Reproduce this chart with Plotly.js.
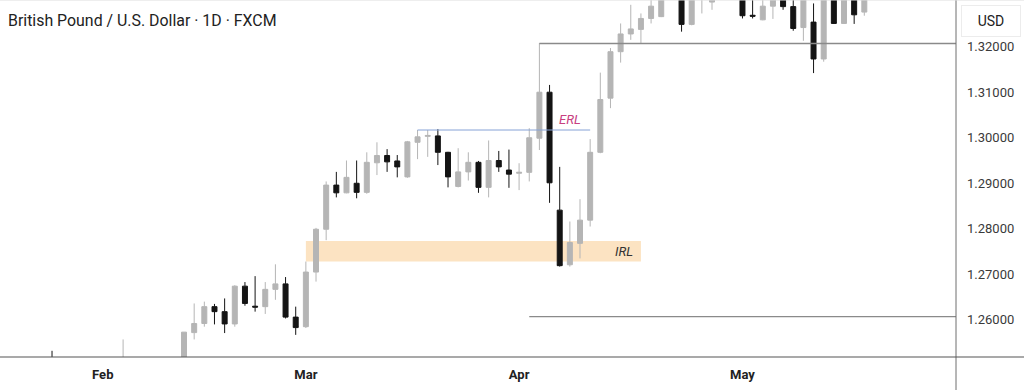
<!DOCTYPE html>
<html>
<head>
<meta charset="utf-8">
<script src="https://cdn.plot.ly/plotly-3.0.1.min.js"></script>
<style>html,body{margin:0;padding:0;background:#fff;}#chart{width:1024px;height:390px;}</style>
</head>
<body>
<div id="chart"></div>
<script>
// Trading days (weekdays) shown on the chart
const dates = [
 '2025-01-27','2025-01-28','2025-01-29','2025-01-30','2025-01-31',
 '2025-02-03','2025-02-04','2025-02-05','2025-02-06','2025-02-07','2025-02-10','2025-02-11','2025-02-12','2025-02-13','2025-02-14',
 '2025-02-17','2025-02-18','2025-02-19','2025-02-20','2025-02-21','2025-02-24','2025-02-25','2025-02-26','2025-02-27','2025-02-28',
 '2025-03-03','2025-03-04','2025-03-05','2025-03-06','2025-03-07','2025-03-10','2025-03-11','2025-03-12','2025-03-13','2025-03-14',
 '2025-03-17','2025-03-18','2025-03-19','2025-03-20','2025-03-21','2025-03-24','2025-03-25','2025-03-26','2025-03-27','2025-03-28','2025-03-31',
 '2025-04-01','2025-04-02','2025-04-03','2025-04-04','2025-04-07','2025-04-08','2025-04-09','2025-04-10','2025-04-11',
 '2025-04-14','2025-04-15','2025-04-16','2025-04-17','2025-04-18','2025-04-21','2025-04-22','2025-04-23','2025-04-24','2025-04-25',
 '2025-04-28','2025-04-29','2025-04-30',
 '2025-05-01','2025-05-02','2025-05-05','2025-05-06','2025-05-07','2025-05-08','2025-05-09','2025-05-12','2025-05-13','2025-05-14',
 '2025-05-15','2025-05-16','2025-05-19'
];
const N = null;
const open = [
 1.2480,N,N,N,N,
 N,N,1.2480,N,N,N,N,N,1.2460,1.2565,
 1.2585,1.2622,1.2611,1.2584,1.2667,1.2623,1.2622,1.2660,1.2672,1.2599,
 1.2578,1.2698,1.2792,1.2889,1.2872,1.2893,1.2873,1.2938,1.2954,1.2942,
 1.2907,1.2983,1.2996,1.2997,1.2961,1.2886,1.2918,1.2939,1.2884,1.2943,1.2922,
 1.2915,1.2917,1.2992,1.3093,1.2834,1.2714,1.2761,1.2812,1.2961,
 1.3080,1.3182,1.3221,1.3231,1.3255,1.3259,1.3340,1.3330,1.3242,1.3300,
 1.3291,1.3340,1.3360,
 1.3330,1.3262,1.3252,1.3282,1.3320,1.3281,1.3235,1.3247,1.3166,1.3310,
 1.3244,1.3310,1.3269
];
const high = [
 1.2525,N,N,N,N,
 N,N,1.2550,N,N,N,N,N,1.2566,1.2629,
 1.2633,1.2628,1.2640,1.2669,1.2676,1.2689,1.2676,1.2715,1.2687,1.2622,
 1.2721,1.2795,1.2897,1.2918,1.2943,1.2943,1.2961,1.2983,1.2968,1.2955,
 1.2986,1.3010,1.3010,1.3012,1.2962,1.2970,1.2961,1.2942,1.2987,1.2964,1.2967,
 1.2937,1.3014,1.3201,1.3109,1.2929,1.2809,1.2858,1.2990,1.3136,
 1.3190,1.3244,1.3285,1.3266,1.3310,1.3360,1.3420,1.3370,1.3340,1.3340,
 1.3360,1.3380,1.3390,
 1.3340,1.3320,1.3310,1.3345,1.3350,1.3310,1.3330,1.3288,1.3320,1.3330,
 1.3320,1.3330,1.3360
];
const low = [
 1.2430,N,N,N,N,
 N,N,1.2465,N,N,N,N,N,1.2440,1.2550,
 1.2578,1.2583,1.2564,1.2578,1.2624,1.2611,1.2606,1.2637,1.2596,1.2560,
 1.2575,1.2677,1.2768,1.2862,1.2871,1.2860,1.2870,1.2911,1.2918,1.2906,
 1.2905,1.2946,1.2951,1.2933,1.2884,1.2884,1.2899,1.2872,1.2862,1.2918,1.2883,
 1.2878,1.2897,1.2966,1.2850,1.2710,1.2710,1.2728,1.2798,1.2959,
 1.3058,1.3158,1.3208,1.3200,1.3244,1.3258,1.3310,1.3226,1.3240,1.3266,
 1.3274,1.3305,1.3310,
 1.3255,1.3255,1.3251,1.3254,1.3274,1.3228,1.3206,1.3135,1.3160,1.3243,
 1.3243,1.3243,1.3261
];
const close = [
 1.2470,N,N,N,N,
 N,N,1.2495,N,N,N,N,N,1.2566,1.2585,
 1.2622,1.2611,1.2584,1.2667,1.2629,1.2621,1.2660,1.2672,1.2599,1.2576,
 1.2698,1.2792,1.2889,1.2872,1.2906,1.2873,1.2939,1.2954,1.2940,1.2929,
 1.2984,1.2995,1.2998,1.2961,1.2907,1.2918,1.2939,1.2884,1.2943,1.2929,1.2913,
 1.2917,1.2993,1.3093,1.2894,1.2712,1.2763,1.2812,1.2961,1.3077,
 1.3182,1.3221,1.3232,1.3255,1.3282,1.3340,1.3330,1.3242,1.3320,1.3320,
 1.3340,1.3360,1.3330,
 1.3261,1.3260,1.3282,1.3320,1.3281,1.3233,1.3310,1.3166,1.3310,1.3244,
 1.3300,1.3263,1.3340
];
const monthTickDates = ['2025-02-03','2025-03-03','2025-04-01','2025-05-01'];
const monthTickText = ['Feb','Mar','Apr','May'];
const priceTicks = [1.26,1.27,1.28,1.29,1.30,1.31,1.32];

// annotations / levels
const erl = {from:'2025-03-18', to:'2025-04-10', level:1.3010, labelAt:'2025-04-08', labelY:1.3034};
const irl = {from:'2025-03-03', to:'2025-04-17', low:1.2721, high:1.2766, labelAt:'2025-04-15', labelY:1.2743};
const level132 = {from:'2025-04-03', level:1.3200};
const level126 = {from:'2025-04-02', level:1.2600};

const xRange = [-5.124, 89.03];
const yRange = [1.25114, 1.329554];

const trace = {
  type:'candlestick', x:dates, open:open, high:high, low:low, close:close,
  increasing:{line:{color:'#b5b5b5', width:1}, fillcolor:'#b5b5b5'},
  decreasing:{line:{color:'#141414', width:1}, fillcolor:'#141414'},
  whiskerwidth:0, showlegend:false, hoverinfo:'skip'
};

const plotRight = 956, totalW = 1024, plotH = 357;
const layout = {
  width:1024, height:390,
  margin:{l:0, r:68, t:0, b:33},
  paper_bgcolor:'#ffffff', plot_bgcolor:'#ffffff',
  font:{family:'Roboto, sans-serif', color:'#333'},
  title:{text:'British Pound / U.S. Dollar · 1D · FXCM', x:8/1024, xanchor:'left', xref:'container',
         y:1-20.5/390, yanchor:'middle', yref:'container', font:{family:'Roboto', size:15.9, color:'#222'}},
  xaxis:{type:'category', categoryorder:'array', categoryarray:dates, range:xRange, rangeslider:{visible:false},
         showgrid:false, zeroline:false, showline:false, ticks:'',
         tickvals:monthTickDates, ticktext:monthTickText, tickangle:0,
         tickfont:{family:'Roboto', size:13, color:'#222', weight:'bold'}, ticklabelstandoff:8, fixedrange:true},
  yaxis:{side:'right', range:yRange, showgrid:false, zeroline:false, showline:false, ticks:'',
         tickvals:priceTicks, tickformat:'.5f', tickfont:{family:'Roboto', size:13, color:'#3a3a3a'},
         ticklabelstandoff:10, ticklabelshift:3, fixedrange:true},
  shapes:[
    {type:'rect', xref:'x', yref:'y', x0:irl.from, x1:irl.to, y0:irl.low, y1:irl.high,
     fillcolor:'#fce3c2', line:{width:0}, layer:'below'},
    {type:'line', xref:'x', yref:'y', x0:erl.from, x1:erl.to, y0:erl.level, y1:erl.level,
     line:{color:'#86a2d6', width:1}},
    {type:'line', xref:'x', yref:'y', x0:level132.from, x1:xRange[1], y0:level132.level, y1:level132.level,
     line:{color:'#8a8a8a', width:1.3}},
    {type:'line', xref:'x', yref:'y', x0:level126.from, x1:xRange[1], y0:level126.level, y1:level126.level,
     line:{color:'#8a8a8a', width:1.3}},
    {type:'line', xref:'paper', yref:'paper', x0:1, x1:1, y0:-33/plotH, y1:1,
     line:{color:'#6e6e6e', width:1}},
    {type:'line', xref:'paper', yref:'paper', x0:0, x1:totalW/plotRight, y0:0, y1:0,
     line:{color:'#555555', width:1.2}},
    {type:'line', xref:'paper', yref:'paper', x0:0, x1:totalW/plotRight, y0:1, y1:1,
     line:{color:'#dddddd', width:1}}
  ],
  annotations:[
    {xref:'x', yref:'y', x:erl.labelAt, y:erl.labelY, text:'ERL', showarrow:false,
     font:{family:'Roboto', size:13, color:'#c8407f', style:'italic'}},
    {xref:'x', yref:'y', x:irl.labelAt, y:irl.labelY, xshift:3.5, text:'IRL', showarrow:false,
     font:{family:'Roboto', size:13, color:'#333', style:'italic'}},
    {xref:'paper', yref:'paper', x:991/plotRight, y:1-20.5/plotH, xanchor:'center', yanchor:'middle',
     text:'USD', showarrow:false, width:56, height:28, bgcolor:'#ffffff', bordercolor:'#ececec', borderwidth:1,
     font:{family:'Roboto', size:14, color:'#222'}}
  ]
};
Plotly.newPlot('chart', [trace], layout, {displayModeBar:false, staticPlot:true});
</script>
</body>
</html>
